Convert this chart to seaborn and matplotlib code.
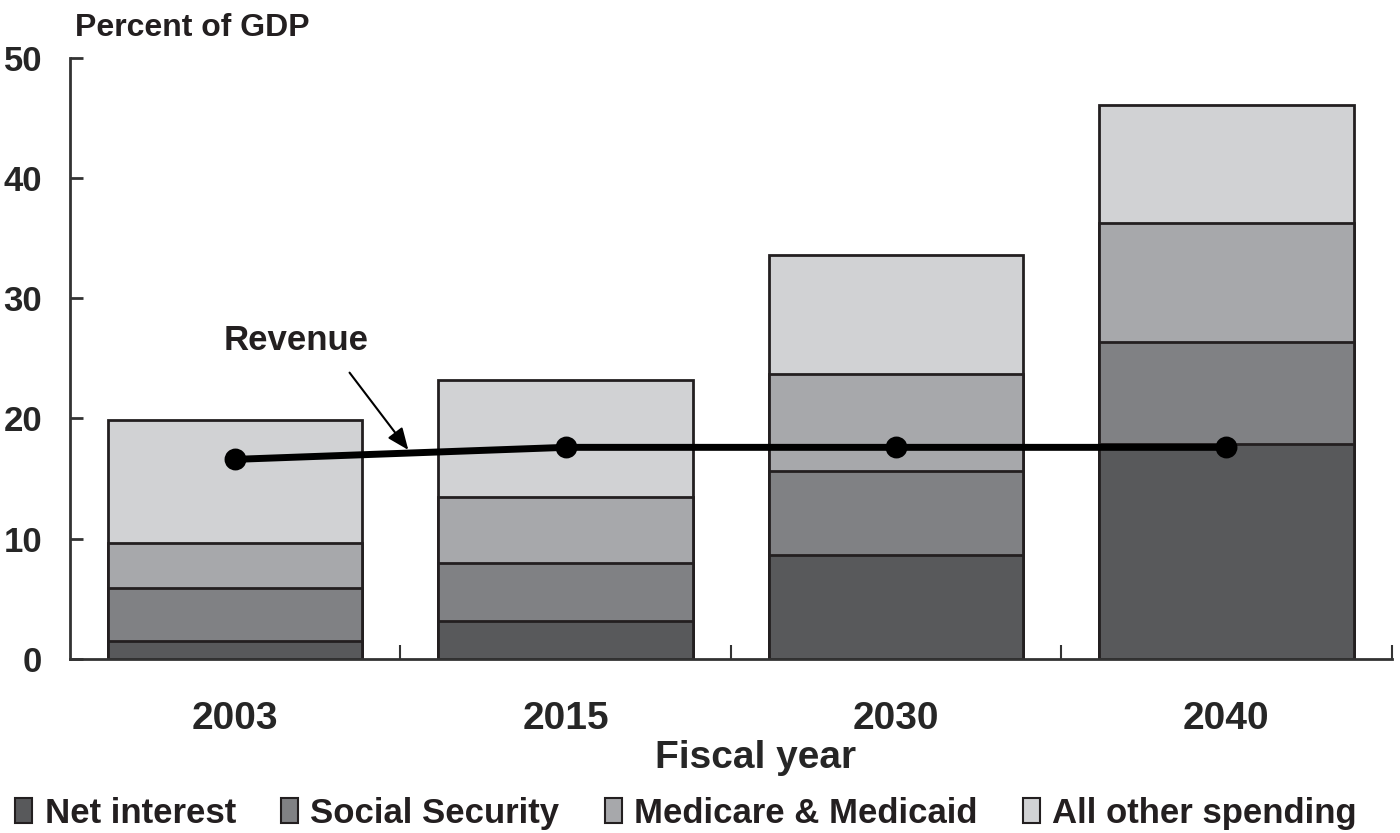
import numpy as np
import pandas as pd
import seaborn as sns
import matplotlib.pyplot as plt
from matplotlib.patches import Patch

# valores (porcentaje del PIB)
years = ['2003', '2015', '2030', '2040']
net_interest = [1.5, 3.15, 8.65, 17.9]
social_security = [4.4, 4.85, 6.95, 8.5]
medicare_medicaid = [3.75, 5.5, 8.1, 9.9]
all_other = [10.25, 9.7, 9.9, 9.8]
revenue = [16.6, 17.6, 17.6, 17.6]

series_names = ['Net interest', 'Social Security', 'Medicare & Medicaid', 'All other spending']
colors = ['#58595b', '#808184', '#a7a8ab', '#d1d2d4']
edge = '#231f20'

sns.set_theme(style='white')
plt.rcParams['font.family'] = ['Liberation Sans Narrow', 'Liberation Sans', 'DejaVu Sans']
plt.rcParams['font.weight'] = 'bold'
plt.rcParams['axes.labelweight'] = 'bold'
plt.rcParams['text.color'] = '#231f20'

fig = plt.figure(figsize=(14, 8.33), dpi=100)
ax = fig.add_axes([0.05, 0.209, 0.944, 0.7215])

# barras apiladas: se dibujan los acumulados de mayor a menor
stack = np.cumsum([net_interest, social_security, medicare_medicaid, all_other], axis=0)
for i in reversed(range(len(series_names))):
    sns.barplot(x=years, y=stack[i], color=colors[i], saturation=1,
                edgecolor=edge, linewidth=2, width=0.77, ax=ax)

# linea de ingresos
sns.pointplot(x=years, y=revenue, color='black', errorbar=None,
              markersize=12, linewidth=5, ax=ax)

ax.text(0.184, 26.5, 'Revenue', ha='center', va='center', fontsize=25)
ax.annotate('', xy=(0.529, 17.2), xytext=(0.341, 24.0),
            arrowprops=dict(arrowstyle='-|>,head_length=0.6,head_width=0.25',
                            color='black', lw=1.5, mutation_scale=22))

ax.set_xlim(-0.5, 3.5)
ax.set_ylim(0, 50)
ax.set_yticks(range(0, 51, 10))
ax.set_xticks([0.5, 1.5, 2.5, 3.5], minor=True)

for side in ['top', 'right']:
    ax.spines[side].set_visible(False)
for side in ['left', 'bottom']:
    ax.spines[side].set_color('#333333')
    ax.spines[side].set_linewidth(2)

ax.tick_params(axis='y', left=True, direction='in', length=9, width=2,
               color='#333333', labelsize=25, pad=20)
ax.tick_params(axis='x', which='major', bottom=False, length=0, labelsize=28, pad=30)
ax.tick_params(axis='x', which='minor', bottom=True, direction='in', length=10,
               width=1.5, color='#333333')

ax.set_xlabel('Fiscal year', fontsize=28, fontweight='bold')
ax.xaxis.set_label_coords((756 - 70) / 1322, -0.135)
ax.set_ylabel('')

fig.text(75 / 1400, 1 - 28 / 833, 'Percent of GDP', ha='left', va='center', fontsize=23)

handles = [Patch(facecolor=c, edgecolor=edge, linewidth=1.5) for c in colors]
fig.legend(handles, series_names, loc='center', bbox_to_anchor=(0.49, 0.024),
           ncol=4, frameon=False, handlelength=0.5, handleheight=0.75,
           handletextpad=0.35, columnspacing=1.3,
           prop={'weight': 'bold', 'size': 25})

fig.savefig('out.png', dpi=100, facecolor='white')
